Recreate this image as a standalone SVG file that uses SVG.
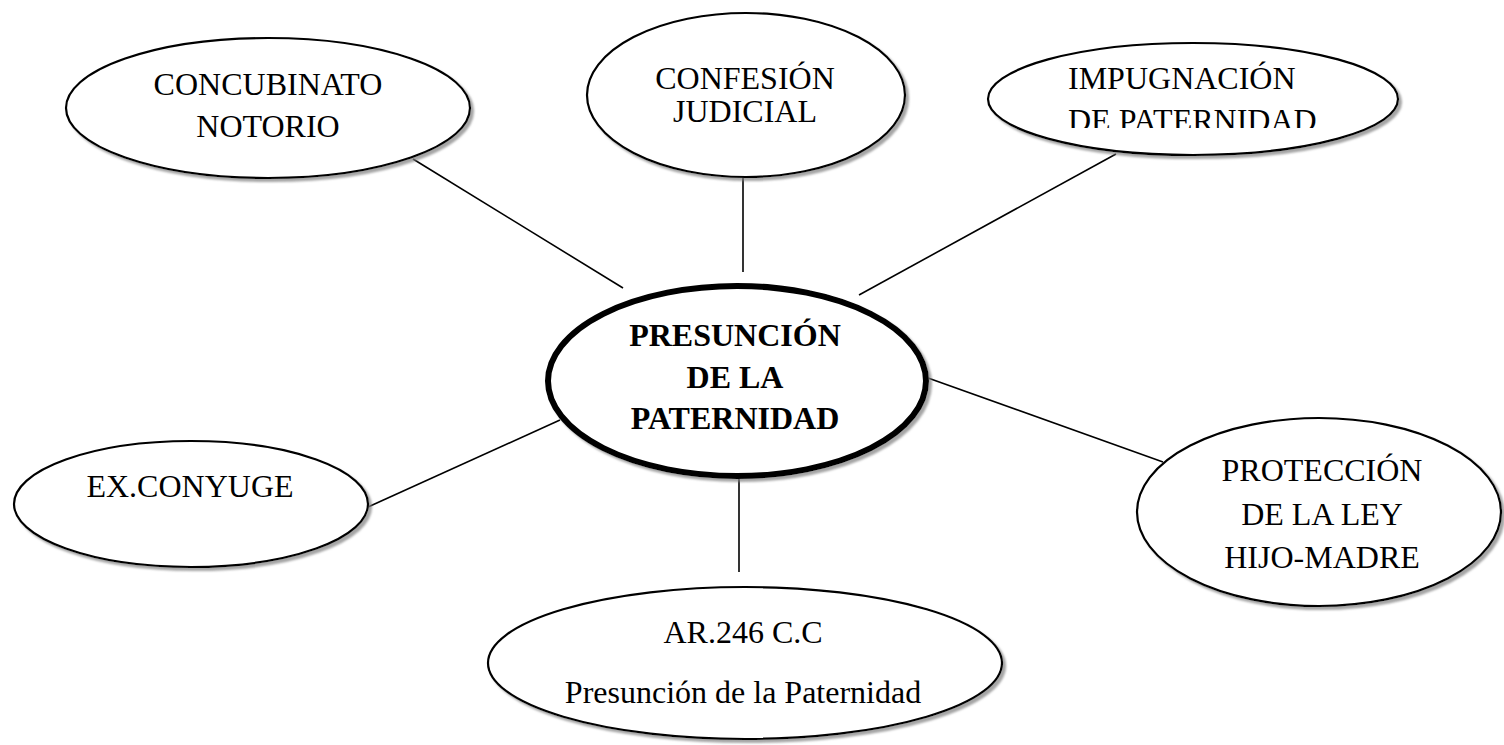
<svg xmlns="http://www.w3.org/2000/svg" width="1504" height="745" viewBox="0 0 1504 745">
<style>
.n{fill:#fff;stroke:#000;stroke-width:2.2;filter:url(#sh)}
.c{fill:#fff;stroke:#000;stroke-width:6;filter:url(#sh)}
.t{font-family:"Liberation Serif","Times New Roman",serif;font-size:32px;fill:#000;text-anchor:middle}
.b{font-weight:bold}
.l{stroke:#000;stroke-width:1.6;fill:none}
</style>
<defs>
<filter id="sh" x="-10%" y="-10%" width="125%" height="130%">
<feDropShadow dx="3" dy="3" stdDeviation="1.2" flood-color="#7f7f7f" flood-opacity="0.7"/>
</filter>
<clipPath id="clipImp"><rect x="980" y="30" width="440" height="98"/></clipPath>
</defs>
<rect width="1504" height="745" fill="#fff"/>
<g id="connectors">
<line class="l" x1="413" y1="159" x2="623" y2="288"/>
<line class="l" x1="743" y1="176" x2="743" y2="272"/>
<line class="l" x1="1116" y1="154" x2="859" y2="295"/>
<line class="l" x1="928" y1="378" x2="1163" y2="462"/>
<line class="l" x1="368" y1="507" x2="560" y2="420"/>
<line class="l" x1="739" y1="478" x2="739" y2="572"/>
</g>
<g id="concubinato">
<ellipse class="n" cx="268" cy="108" rx="202" ry="70"/>
<text class="t" x="268" y="95">CONCUBINATO</text>
<text class="t" x="268" y="137">NOTORIO</text>
</g>
<g id="confesion">
<ellipse class="n" cx="746" cy="95" rx="159" ry="82"/>
<text class="t" x="745" y="89">CONFESIÓN</text>
<text class="t" x="745" y="122">JUDICIAL</text>
</g>
<g id="impugnacion">
<ellipse class="n" cx="1193" cy="99" rx="205" ry="56"/>
<g clip-path="url(#clipImp)">
<text class="t" x="1068" y="89" text-anchor="start" style="text-anchor:start">IMPUGNACIÓN</text>
<text class="t" x="1068" y="131" style="text-anchor:start">DE PATERNIDAD</text>
</g>
</g>
<g id="presuncion">
<ellipse class="c" cx="737" cy="381" rx="189" ry="95"/>
<text class="t b" x="735" y="346">PRESUNCIÓN</text>
<text class="t b" x="735" y="388">DE LA</text>
<text class="t b" x="735" y="429">PATERNIDAD</text>
</g>
<g id="exconyuge">
<ellipse class="n" cx="191" cy="504" rx="177" ry="63"/>
<text class="t" x="190" y="497">EX.CONYUGE</text>
</g>
<g id="proteccion">
<ellipse class="n" cx="1319" cy="512" rx="182" ry="94"/>
<text class="t" x="1322" y="481">PROTECCIÓN</text>
<text class="t" x="1322" y="525">DE LA LEY</text>
<text class="t" x="1322" y="568">HIJO-MADRE</text>
</g>
<g id="ar246">
<ellipse class="n" cx="745" cy="663" rx="257" ry="76"/>
<text class="t" x="743" y="643">AR.246 C.C</text>
<text class="t" x="743" y="703">Presunción de la Paternidad</text>
</g>
</svg>
